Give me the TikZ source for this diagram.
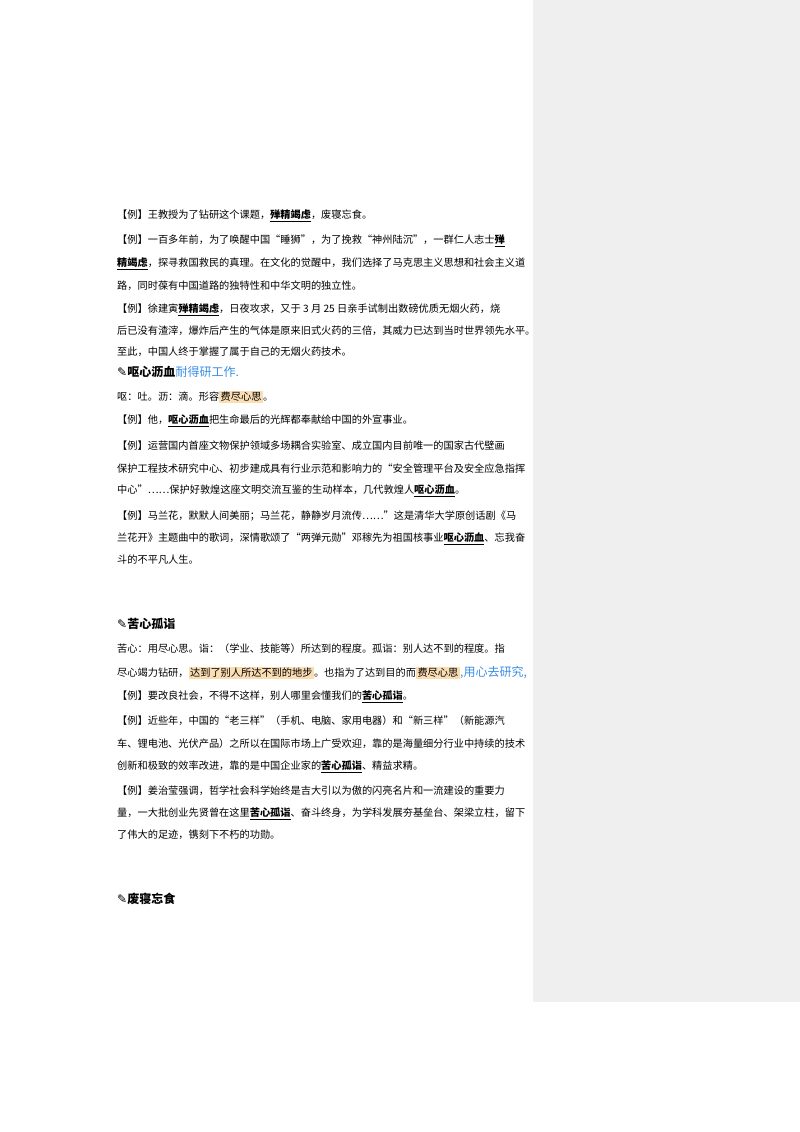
\documentclass[tikz,border=0pt]{standalone}
\usepackage{fontspec}
\setmainfont{Noto Sans CJK SC}
\newfontfamily\sym{DejaVu Sans}
\definecolor{panel}{HTML}{EFEFEF}
\definecolor{hl}{HTML}{FBDDB4}
\definecolor{pen}{HTML}{3A8EE6}
\newcommand{\kw}[1]{\underline{\textbf{#1}}}
\newcommand{\hlt}[1]{{\setlength{\fboxsep}{1.5pt}\colorbox{hl}{#1}}}
\begin{document}
\begin{tikzpicture}[x=1pt,y=-1pt,
  ln/.style={anchor=west,inner sep=0pt,font=\fontsize{10.2}{12}\selectfont},
  hd/.style={anchor=west,inner sep=0pt,font=\fontsize{12}{14}\selectfont\bfseries},
  hw/.style={anchor=west,inner sep=0pt,text=pen,font=\fontsize{12}{14}\selectfont\itshape}]
\useasboundingbox (0,0) rectangle (800,1132);
\fill[white] (0,0) rectangle (800,1132);
\fill[panel] (533,0) rectangle (800,1002);
\node[ln] (l1) at (117,216) {【例】王教授为了钻研这个课题，\kw{殚精竭虑}，废寝忘食。};
\node[ln] (l2) at (117,241) {【例】一百多年前，为了唤醒中国“睡狮”，为了挽救“神州陆沉”，一群仁人志士\kw{殚}};
\node[ln] (l3) at (117,264) {\kw{精竭虑}，探寻救国救民的真理。在文化的觉醒中，我们选择了马克思主义思想和社会主义道};
\node[ln] (l4) at (117,286) {路，同时葆有中国道路的独特性和中华文明的独立性。};
\node[ln] (l5) at (117,310) {【例】徐建寅\kw{殚精竭虑}，日夜攻求，又于 3 月 25 日亲手试制出数磅优质无烟火药，烧};
\node[ln] (l6) at (117,331) {后已没有渣滓，爆炸后产生的气体是原来旧式火药的三倍，其威力已达到当时世界领先水平。};
\node[ln] (l7) at (117,352) {至此，中国人终于掌握了属于自己的无烟火药技术。};
\node[hd] (h1) at (117,372) {{\sym ✎}呕心沥血};
\node[hw] (w1) at (h1.east) {耐得研工作.};
\node[ln] (l8) at (117,397) {呕：吐。沥：滴。形容\hlt{费尽心思}。};
\node[ln] (l9) at (117,421) {【例】他，\kw{呕心沥血}把生命最后的光辉都奉献给中国的外宣事业。};
\node[ln] (l10) at (117,446) {【例】运营国内首座文物保护领域多场耦合实验室、成立国内目前唯一的国家古代壁画};
\node[ln] (l11) at (117,469) {保护工程技术研究中心、初步建成具有行业示范和影响力的“安全管理平台及安全应急指挥};
\node[ln] (l12) at (117,491) {中心”……保护好敦煌这座文明交流互鉴的生动样本，几代敦煌人\kw{呕心沥血}。};
\node[ln] (l13) at (117,516) {【例】马兰花，默默人间美丽；马兰花，静静岁月流传……”这是清华大学原创话剧《马};
\node[ln] (l14) at (117,539) {兰花开》主题曲中的歌词，深情歌颂了“两弹元勋”邓稼先为祖国核事业\kw{呕心沥血}、忘我奋};
\node[ln] (l15) at (117,560) {斗的不平凡人生。};
\node[hd] (h2) at (117,624) {{\sym ✎}苦心孤诣};
\node[ln] (l16) at (117,649) {苦心：用尽心思。诣：（学业、技能等）所达到的程度。孤诣：别人达不到的程度。指};
\node[ln] (l17) at (117,673) {尽心竭力钻研，\hlt{达到了别人所达不到的地步}。也指为了达到目的而\hlt{费尽心思}};
\node[hw] (w2) at (l17.east) {,用心去研究,};
\node[ln] (l18) at (117,697) {【例】要改良社会，不得不这样，别人哪里会懂我们的\kw{苦心孤诣}。};
\node[ln] (l19) at (117,721) {【例】近些年，中国的“老三样”（手机、电脑、家用电器）和“新三样”（新能源汽};
\node[ln] (l20) at (117,744) {车、锂电池、光伏产品）之所以在国际市场上广受欢迎，靠的是海量细分行业中持续的技术};
\node[ln] (l21) at (117,767) {创新和极致的效率改进，靠的是中国企业家的\kw{苦心孤诣}、精益求精。};
\node[ln] (l22) at (117,791) {【例】姜治莹强调，哲学社会科学始终是吉大引以为傲的闪亮名片和一流建设的重要力};
\node[ln] (l23) at (117,814) {量，一大批创业先贤曾在这里\kw{苦心孤诣}、奋斗终身，为学科发展夯基垒台、架梁立柱，留下};
\node[ln] (l24) at (117,835) {了伟大的足迹，镌刻下不朽的功勋。};
\node[hd] (h3) at (117,899) {{\sym ✎}废寝忘食};
\end{tikzpicture}
\end{document}
